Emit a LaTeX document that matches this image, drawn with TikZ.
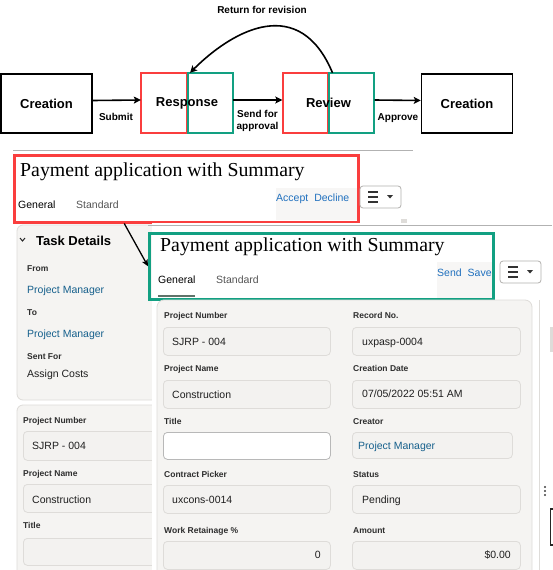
\documentclass[tikz,border=0pt]{standalone}
\usepackage{fontspec}
\setmainfont{Liberation Sans}
\newfontfamily\titleserif{Liberation Serif}
\usetikzlibrary{arrows.meta}
\definecolor{markred}{RGB}{250,62,62}
\definecolor{markgreen}{RGB}{18,160,130}
\definecolor{linkblue}{RGB}{22,96,140}
\definecolor{actblue}{RGB}{32,112,190}
\definecolor{panelgray}{RGB}{245,244,242}
\definecolor{fieldgray}{RGB}{243,242,240}
\definecolor{edgegray}{RGB}{222,220,217}
\definecolor{tabgray}{RGB}{85,85,85}
\definecolor{actionbg}{RGB}{247,246,245}
\definecolor{tabline}{RGB}{95,115,105}
\tikzstyle{stage} = [rectangle, draw=black, line width=1.5pt, minimum width=91pt, minimum height=59pt, text centered, font=\fontsize{13}{15}\selectfont\bfseries]
\tikzstyle{stage_split} = [draw=none, minimum width=92pt, minimum height=60pt, text centered, font=\fontsize{13}{15}\selectfont\bfseries]
\tikzstyle{flowlabel} = [align=center, inner sep=0pt, font=\fontsize{10}{12}\selectfont\bfseries]
\tikzstyle{arrow} = [line width=1.6pt,-{Stealth[length=7pt,width=7pt,inset=1.5pt]}]
\tikzstyle{arrow_thin} = [line width=1.3pt,-{Stealth[length=6.5pt,width=6pt,inset=1.5pt]}]
\tikzstyle{frame_red} = [draw=markred, line width=2.5pt, inner sep=0pt]
\tikzstyle{frame_green} = [draw=markgreen, line width=2.5pt, inner sep=0pt]
\tikzstyle{divider} = [draw=black!30, line width=0.9pt]
\tikzstyle{panel} = [draw=edgegray, fill=panelgray, line width=0.8pt, rounded corners=6pt]
\tikzstyle{formtitle} = [anchor=base west, inner sep=0pt, font=\titleserif\fontsize{19.8}{22}\selectfont]
\tikzstyle{tab} = [anchor=base west, inner sep=0pt, font=\fontsize{10.5}{12}\selectfont]
\tikzstyle{action} = [anchor=base west, inner sep=0pt, text=actblue, font=\fontsize{10.5}{12}\selectfont]
\tikzstyle{fieldlabel} = [anchor=base west, inner sep=0pt, text=black!82, font=\fontsize{8.5}{10}\selectfont\bfseries]
\tikzstyle{fieldvalue} = [anchor=base west, inner sep=0pt, text=black!88, font=\fontsize{10.5}{12}\selectfont]
\tikzstyle{fieldvalue_right} = [fieldvalue, anchor=base east]
\tikzstyle{fieldbox} = [anchor=north west, draw=edgegray, fill=fieldgray, line width=0.8pt, rounded corners=4pt, inner sep=0pt]
\tikzstyle{menubtn} = [draw=edgegray!80!black, fill=white, line width=0.8pt, rounded corners=3pt]
\newcommand{\menubutton}[1]{%
  \begin{scope}[shift={#1}]
    \draw[menubtn] (0,0) rectangle (41,22);
    \draw[line width=1.5pt, black!80] (8,6) -- (18,6) (8,11) -- (18,11) (8,16) -- (18,16);
    \fill[black!80] (27,9) -- (33,9) -- (30,12.5) -- cycle;
  \end{scope}}

\begin{document}
\begin{tikzpicture}[x=1pt,y=-1pt]
\useasboundingbox[fill=white] (0,0) rectangle (552,570);

% approval flow
\draw[frame_red] (141,73) rectangle (187,133);
\draw[frame_green] (188,73) rectangle (233,133);
\draw[frame_red] (283,73) rectangle (328,133);
\draw[frame_green] (329,73) rectangle (374,133);

\node (creation_start) [stage] at (46.5,103.5) {Creation};
\node (response) [stage_split] at (187,103) {Response};
\node (review) [stage_split] at (328.5,103) {Review};
\node (creation_end) [stage] at (467,103.5) {Creation};

\draw [arrow] ([yshift=3]creation_start.east) -- ([yshift=3]response.west);
\draw [arrow] ([yshift=3]response.east) -- ([yshift=3]review.west);
\draw [arrow] ([yshift=3]review.east) -- ([yshift=3]creation_end.west);
\draw [arrow] ([xshift=4]review.north) .. controls (300,-5) and (235,28) .. ([xshift=3]response.north);

\node (submit_lbl) [flowlabel] at (116,117) {Submit};
\node (send_lbl) [flowlabel] at (257.5,121) {Send for\\approval};
\node (approve_lbl) [flowlabel] at (398,118) {Approve};
\node (return_lbl) [flowlabel] at (262,10) {Return for revision};

% reviewer form header
\draw[divider] (13,150) -- (413,150);
\fill[actionbg] (276,188) rectangle (357,220);
\node (title_accept) [formtitle] at (20,176) {Payment application with Summary};
\node (tab_general_a) [tab] at (18,208) {General};
\node (tab_standard_a) [tab, text=tabgray] at (76,208) {Standard};
\node (accept_btns) [action] at (276,201) {Accept\hspace{6pt}Decline};
\node (accept_frame) [frame_red, minimum width=344pt, minimum height=67pt, anchor=north west] at (13,154) {};
\menubutton{(360,186)}
\fill[edgegray] (401,219) rectangle (407,225);

% task details side panel
\draw[panel] (17,225) rectangle (180,400);
\draw[line width=1pt, black!85] (20,238) -- (22.5,241) -- (25,238);
\node (task_hdr) [anchor=base west, inner sep=0pt, font=\fontsize{13}{15}\selectfont\bfseries] at (36,245) {Task Details};
\node (from_lbl) [fieldlabel] at (27,271) {From};
\node (from_val) [fieldvalue, text=linkblue] at (27,293) {Project Manager};
\node (to_lbl) [fieldlabel] at (27,315) {To};
\node (to_val) [fieldvalue, text=linkblue] at (27,337) {Project Manager};
\node (sent_lbl) [fieldlabel] at (27,359) {Sent For};
\node (sent_val) [fieldvalue] at (27,377) {Assign Costs};

\draw[panel] (17,405) rectangle (180,600);
\node (old_pnum_lbl) [fieldlabel] at (23,423) {Project Number};
\node (old_pnum_box) [fieldbox, minimum width=150pt, minimum height=29pt] at (23,431) {};
\node (old_pnum_val) [fieldvalue] at (32,449) {SJRP - 004};
\node (old_pname_lbl) [fieldlabel] at (23,476) {Project Name};
\node (old_pname_box) [fieldbox, minimum width=150pt, minimum height=28pt] at (23,484) {};
\node (old_pname_val) [fieldvalue] at (32,503) {Construction};
\node (old_title_lbl) [fieldlabel] at (23,528) {Title};
\node (old_title_box) [fieldbox, minimum width=150pt, minimum height=27pt] at (23,538) {};

% submitter form
\fill[white] (152,223) rectangle (560,580);
\draw[divider] (148,225) -- (552,225);
\fill[actionbg] (437,262) rectangle (492,298);
\node (title_send) [formtitle] at (160,251) {Payment application with Summary};
\node (tab_general_b) [tab] at (158,283) {General};
\draw[tabline, line width=2pt] (158,295.5) -- (195,295.5);
\node (tab_standard_b) [tab, text=tabgray] at (216,283) {Standard};
\node (send_btns) [action] at (437,276) {Send\hspace{6pt}Save};
\node (send_frame) [frame_green, minimum width=344pt, minimum height=66pt, anchor=north west] at (148,232) {};
\menubutton{(500,261)}

\draw [arrow_thin] ([xshift=-62]accept_frame.south) -- (send_frame.west);

\draw[panel, rounded corners=7pt] (157,300) rectangle (532,600);

\node (pnum_lbl) [fieldlabel] at (164,318) {Project Number};
\node (pnum_box) [fieldbox, minimum width=167pt, minimum height=28pt] at (163,327) {};
\node (pnum_val) [fieldvalue] at (172,345) {SJRP - 004};
\node (rec_lbl) [fieldlabel] at (353,318) {Record No.};
\node (rec_box) [fieldbox, minimum width=168pt, minimum height=28pt] at (352,327) {};
\node (rec_val) [fieldvalue] at (362,345) {uxpasp-0004};

\node (pname_lbl) [fieldlabel] at (164,371) {Project Name};
\node (pname_box) [fieldbox, minimum width=167pt, minimum height=28pt] at (163,380) {};
\node (pname_val) [fieldvalue] at (172,398) {Construction};
\node (date_lbl) [fieldlabel] at (353,371) {Creation Date};
\node (date_box) [fieldbox, minimum width=168pt, minimum height=28pt] at (352,380) {};
\node (date_val) [fieldvalue] at (362,397) {07/05/2022 05:51 AM};

\node (title_lbl) [fieldlabel] at (164,424) {Title};
\node (title_box) [fieldbox, fill=white, draw=black!28, minimum width=167pt, minimum height=27pt] at (163,432) {};
\node (creator_lbl) [fieldlabel] at (353,424) {Creator};
\node (creator_box) [fieldbox, minimum width=160pt, minimum height=26pt] at (352,432) {};
\node (creator_val) [fieldvalue, text=linkblue] at (358,449) {Project Manager};

\node (contract_lbl) [fieldlabel] at (164,477) {Contract Picker};
\node (contract_box) [fieldbox, minimum width=167pt, minimum height=28pt] at (163,485) {};
\node (contract_val) [fieldvalue] at (172,503) {uxcons-0014};
\node (status_lbl) [fieldlabel] at (353,477) {Status};
\node (status_box) [fieldbox, minimum width=168pt, minimum height=28pt] at (352,485) {};
\node (status_val) [fieldvalue] at (362,503) {Pending};

\node (retain_lbl) [fieldlabel] at (164,533) {Work Retainage \%};
\node (retain_box) [fieldbox, minimum width=167pt, minimum height=28pt] at (163,541) {};
\node (retain_val) [fieldvalue_right] at (321,558) {0};
\node (amount_lbl) [fieldlabel] at (353,533) {Amount};
\node (amount_box) [fieldbox, minimum width=168pt, minimum height=28pt] at (352,541) {};
\node (amount_val) [fieldvalue_right] at (511,558) {\$0.00};

% right edge of the screen
\draw[edgegray, line width=0.8pt] (539,300) -- (539,570);
\fill[edgegray] (550,327) rectangle (553,352);
\fill[black!75] (545,487) circle (1.1) (545,491) circle (1.1) (545,495) circle (1.1);
\draw[black!85, line width=1.5pt] (553,509) -- (550.5,509) -- (550.5,545) -- (553,545);
\end{tikzpicture}
\end{document}
